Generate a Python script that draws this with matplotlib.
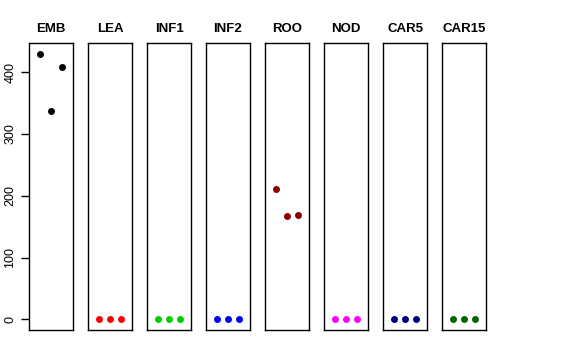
import matplotlib.pyplot as plt

plt.rcParams['font.family'] = ['Liberation Sans', 'DejaVu Sans']

# tissues and replicate values
tissues = ['EMB', 'LEA', 'INF1', 'INF2', 'ROO', 'NOD', 'CAR5', 'CAR15']
values = {
    'EMB': [430, 337, 408],
    'LEA': [0, 0, 0],
    'INF1': [0, 0, 0],
    'INF2': [0, 0, 0],
    'ROO': [211, 168, 169],
    'NOD': [0, 0, 0],
    'CAR5': [0, 0, 0],
    'CAR15': [0, 0, 0],
}
colors = ['black', 'red', '#00CD00', 'blue', '#8B0000', 'magenta', '#000080', '#006400']
replicates = [1, 2, 3]
yticks = [0, 100, 200, 300, 400]

W, H = 576, 360
fig = plt.figure(figsize=(W / 100, H / 100), dpi=100)

ymax = max(max(v) for v in values.values())
pad = ymax * 0.04

for i, (t, c) in enumerate(zip(tissues, colors)):
    left = 29 + i * 59
    ax = fig.add_axes([left / W, 1 - 330 / H, 44 / W, 287 / H])
    ax.plot(replicates, values[t], 'o', color=c, markersize=5, markeredgewidth=0)
    ax.set_xlim(0, 4)
    ax.set_ylim(-pad, ymax + pad)
    ax.set_xticks([])
    ax.set_title(t, fontsize=9.5, fontweight='bold', pad=8)
    for s in ax.spines.values():
        s.set_linewidth(1)
    if i == 0:
        ax.set_yticks(yticks)
        ax.set_yticklabels([str(y) for y in yticks], rotation=90, va='center', fontsize=9)
        ax.tick_params(axis='y', length=6, width=1, pad=3)
    else:
        ax.set_yticks([])

fig.savefig('out.png', dpi=100)
